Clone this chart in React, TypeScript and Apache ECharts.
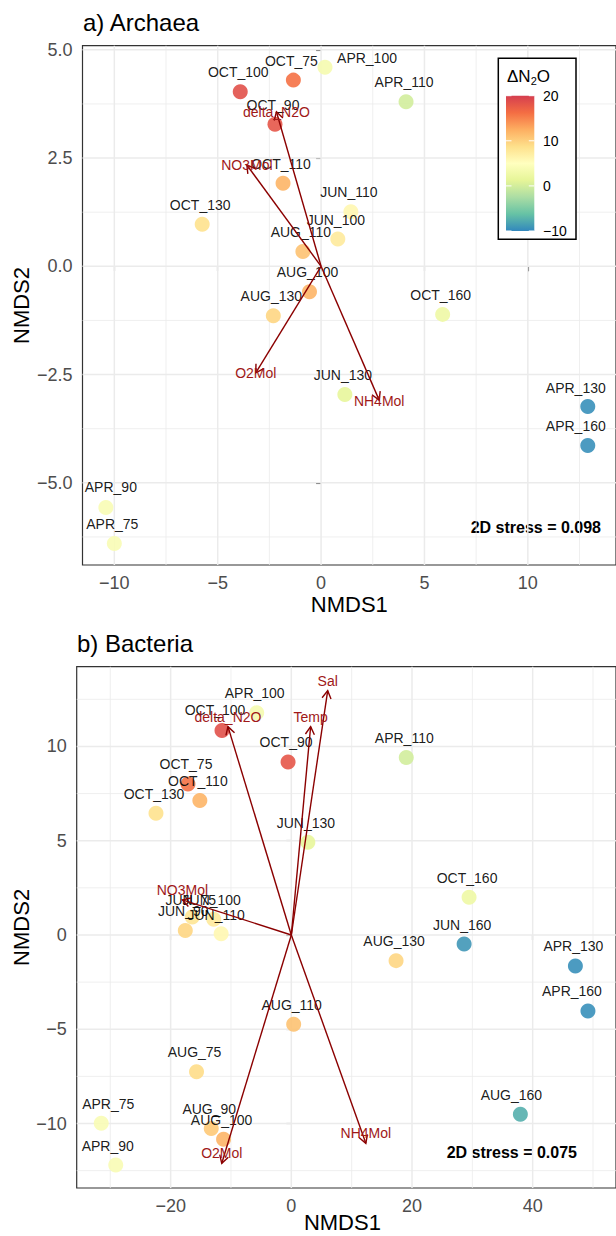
import React, { useEffect, useRef } from "react";
import * as echarts from "echarts";

const FONT = '"Liberation Sans", Arial, Helvetica, sans-serif';

// ΔN2O measured for each sample (month_depth)
const sampleIds = [
  "APR_75", "APR_90", "APR_100", "APR_110", "APR_130", "APR_160",
  "JUN_75", "JUN_90", "JUN_100", "JUN_110", "JUN_130", "JUN_160",
  "AUG_75", "AUG_90", "AUG_100", "AUG_110", "AUG_130", "AUG_160",
  "OCT_75", "OCT_90", "OCT_100", "OCT_110", "OCT_130", "OCT_160",
];
const sampleDeltaN2O = [
  4, 4, 3.5, 0, -9.5, -9.5,
  8, 9.5, 7.5, 6, 1.5, -9,
  9, 10.5, 12, 11, 9.5, -7.5,
  16, 18, 18.5, 12, 8.5, 2.5,
];

// a) Archaea ordination scores
const archaeaSamples = [
  "OCT_100", "OCT_75", "APR_100", "APR_110", "OCT_90", "OCT_110", "OCT_130", "JUN_110", "JUN_100",
  "AUG_110", "AUG_100", "AUG_130", "OCT_160", "JUN_130", "APR_130", "APR_160", "APR_90", "APR_75",
];
const archaeaNMDS1 = [-3.91, -1.34, 0.19, 4.11, -2.23, -1.84, -5.75, 1.44, 0.81, -0.88, -0.56, -2.31, 5.88, 1.15, 12.9, 12.9, -10.41, -10.0];
const archaeaNMDS2 = [4.03, 4.3, 4.6, 3.8, 3.28, 1.92, 0.97, 1.26, 0.63, 0.34, -0.59, -1.14, -1.11, -2.96, -3.24, -4.14, -5.57, -6.4];
const archaeaVectorNames = ["delta_N2O", "NO3Mol", "O2Mol", "NH4Mol"];
const archaeaVectorNMDS1 = [-2.16, -3.59, -3.16, 2.81];
const archaeaVectorNMDS2 = [3.57, 2.34, -2.46, -3.09];
const archaeaStress = "2D stress = 0.098";

// b) Bacteria ordination scores
const bacteriaSamples = [
  "APR_100", "OCT_100", "OCT_90", "OCT_75", "OCT_110", "OCT_130", "JUN_130", "APR_110",
  "JUN_75", "JUN_100", "JUN_90", "JUN_110", "OCT_160", "JUN_160", "AUG_130", "APR_130", "APR_160",
  "AUG_110", "AUG_75", "APR_75", "APR_90", "AUG_90", "AUG_100", "AUG_160",
];
const bacteriaNMDS1 = [-5.74, -11.49, -0.54, -17.13, -15.16, -22.43, 2.74, 19.05, -16.42, -12.86, -17.57, -11.63, 29.46, 28.64, 17.36, 47.08, 49.16, 0.39, -15.71, -31.5, -29.1, -13.27, -11.23, 37.96];
const bacteriaNMDS2 = [11.79, 10.84, 9.18, 8.01, 7.13, 6.46, 4.92, 9.41, 0.95, 0.83, 0.24, 0.07, 2.0, -0.48, -1.36, -1.64, -4.03, -4.74, -7.25, -9.99, -12.2, -10.26, -10.84, -9.51];
const bacteriaVectorNames = ["Sal", "Temp", "delta_N2O", "NO3Mol", "O2Mol", "NH4Mol"];
const bacteriaVectorNMDS1 = [6.03, 3.2, -10.5, -18.06, -11.53, 12.35];
const bacteriaVectorNMDS2 = [12.96, 11.05, 11.05, 1.86, -12.11, -11.05];
const bacteriaStress = "2D stress = 0.075";

// axis ticks
const archaeaXTicks = [-10, -5, 0, 5, 10];
const archaeaYTicks = [-5, -2.5, 0, 2.5, 5];
const bacteriaXTicks = [-20, 0, 20, 40];
const bacteriaYTicks = [-10, -5, 0, 5, 10];
const legendTicks = [20, 10, 0, -10];
const legendMin = -10;
const legendMax = 20;

// RColorBrewer "Spectral", low to high
const spectral = ["#3288BD", "#66C2A5", "#ABDDA4", "#E6F598", "#FFFFBF", "#FEE08B", "#FDAE61", "#F46D43", "#D53E4F"];

// label nudges (px) for crowded sample labels
const defaultNudge = [-2, -19.5];
const archaeaNudge: Record<string, number[]> = {
  APR_100: [42, -9],
  APR_130: [-12, -19],
  APR_160: [-12, -20],
  APR_90: [5, -20],
};
const bacteriaNudge: Record<string, number[]> = {
  OCT_100: [-7, -21],
  JUN_75: [-1.5, -17],
  JUN_110: [-5, -19],
  APR_160: [-16, -20],
  APR_75: [7, -19],
  APR_90: [-8, -19],
  AUG_160: [-9, -19],
};

const minus = (s: string) => s.replace("-", "\u2212");
const deltaOf = (id: string) => sampleDeltaN2O[sampleIds.indexOf(id)];

type Panel = {
  grid: { left: number; top: number; width: number; height: number };
  x: [number, number];
  y: [number, number];
  xTicks: number[];
  yTicks: number[];
  yFmt: (v: number) => string;
};

const panelA: Panel = {
  grid: { left: 82.5, top: 45.7, width: 538.5, height: 519.3 },
  x: [-11.54, 14.265],
  y: [-6.898, 5.095],
  xTicks: archaeaXTicks,
  yTicks: archaeaYTicks,
  yFmt: (v) => minus(v.toFixed(1)),
};
const panelB: Panel = {
  grid: { left: 76.7, top: 666.7, width: 544.3, height: 521.3 },
  x: [-35.57, 53.81],
  y: [-13.42, 14.23],
  xTicks: bacteriaXTicks,
  yTicks: bacteriaYTicks,
  yFmt: (v) => minus(String(v)),
};

function gridLines(ticks: number[], lo: number, hi: number, vertical: boolean) {
  const step = ticks[1] - ticks[0];
  const out: { v: number; vertical: boolean; major: boolean }[] = [];
  const k0 = Math.ceil(lo / (step / 2));
  const k1 = Math.floor(hi / (step / 2));
  for (let k = k0; k <= k1; k++) {
    out.push({ v: (k * step) / 2, vertical, major: k % 2 === 0 });
  }
  return out;
}

function gridSeries(p: Panel, idx: number) {
  const lines = [
    ...gridLines(p.xTicks, p.x[0], p.x[1], true),
    ...gridLines(p.yTicks, p.y[0], p.y[1], false),
  ];
  return {
    type: "custom",
    xAxisIndex: idx,
    yAxisIndex: idx,
    silent: true,
    z: 1,
    data: lines.map((l) => (l.vertical ? [l.v, 0] : [0, l.v])),
    renderItem: (params: any, api: any) => {
      const l = lines[params.dataIndex];
      const a = l.vertical ? api.coord([l.v, p.y[0]]) : api.coord([p.x[0], l.v]);
      const b = l.vertical ? api.coord([l.v, p.y[1]]) : api.coord([p.x[1], l.v]);
      return {
        type: "line",
        shape: { x1: a[0], y1: a[1], x2: b[0], y2: b[1] },
        style: { stroke: "#EBEBEB", lineWidth: l.major ? 1.5 : 0.8 },
      };
    },
  };
}

function scatterSeries(idx: number, names: string[], xs: number[], ys: number[], nudge: Record<string, number[]>) {
  return {
    type: "scatter",
    xAxisIndex: idx,
    yAxisIndex: idx,
    z: 2,
    symbol: "circle",
    symbolSize: 15,
    silent: true,
    itemStyle: { opacity: 0.9 },
    label: {
      show: true,
      position: "inside",
      formatter: "{b}",
      color: "#000",
      fontFamily: FONT,
      fontSize: 14,
      offset: defaultNudge,
    },
    data: names.map((n, i) => ({
      name: n,
      value: [xs[i], ys[i], deltaOf(n)],
      label: nudge[n] ? { offset: nudge[n] } : undefined,
    })),
  };
}

function vectorSeries(idx: number, names: string[], xs: number[], ys: number[], labelDy: number) {
  return {
    type: "custom",
    xAxisIndex: idx,
    yAxisIndex: idx,
    silent: true,
    z: 3,
    data: names.map((_, i) => [xs[i], ys[i]]),
    renderItem: (params: any, api: any) => {
      const o = api.coord([0, 0]);
      const t = api.coord([api.value(0), api.value(1)]);
      const ang = Math.atan2(t[1] - o[1], t[0] - o[0]);
      const L = 9;
      const a = Math.PI / 6;
      const h1 = [t[0] - L * Math.cos(ang - a), t[1] - L * Math.sin(ang - a)];
      const h2 = [t[0] - L * Math.cos(ang + a), t[1] - L * Math.sin(ang + a)];
      const stroke = "#8B0000";
      return {
        type: "group",
        children: [
          { type: "line", shape: { x1: o[0], y1: o[1], x2: t[0], y2: t[1] }, style: { stroke, lineWidth: 1.4 } },
          { type: "polyline", shape: { points: [h1, t, h2] }, style: { stroke, fill: "none", lineWidth: 1.4 } },
          {
            type: "text",
            x: t[0],
            y: t[1] + labelDy,
            style: {
              text: names[params.dataIndex],
              fill: "#A01818",
              fontFamily: FONT,
              fontSize: 14,
              align: "center",
              verticalAlign: "middle",
              textAlign: "center",
              textVerticalAlign: "middle",
            },
          },
        ],
      };
    },
  };
}

function axes(p: Panel, idx: number) {
  const tickStyle = { show: true, length: 5, lineStyle: { color: "#333333", width: 1.1 } };
  const labelStyle = { color: "#4D4D4D", fontSize: 18, fontFamily: FONT };
  return {
    x: {
      type: "value",
      gridIndex: idx,
      min: p.x[0],
      max: p.x[1],
      axisLine: { show: false },
      splitLine: { show: false },
      axisTick: { ...tickStyle, customValues: p.xTicks },
      axisLabel: { ...labelStyle, customValues: p.xTicks, margin: 9, formatter: (v: number) => minus(String(v)) },
    },
    y: {
      type: "value",
      gridIndex: idx,
      min: p.y[0],
      max: p.y[1],
      axisLine: { show: false },
      splitLine: { show: false },
      axisTick: { ...tickStyle, customValues: p.yTicks },
      axisLabel: { ...labelStyle, customValues: p.yTicks, margin: 10, formatter: p.yFmt },
    },
  };
}

function text(t: string, x: number, y: number, size: number, extra: any = {}, elExtra: any = {}) {
  return {
    type: "text",
    x,
    y,
    ...elExtra,
    style: {
      text: t,
      fill: "#000",
      fontFamily: FONT,
      fontSize: size,
      align: "left",
      verticalAlign: "middle",
      textAlign: "left",
      textVerticalAlign: "middle",
      ...extra,
    },
  };
}

function legendGraphics() {
  const bar = { x: 506, y: 95.7, w: 28.3, h: 135.3 };
  const yOf = (v: number) => bar.y + ((legendMax - v) / (legendMax - legendMin)) * bar.h;
  const stops = spectral
    .slice()
    .reverse()
    .map((c, i) => ({ offset: i / (spectral.length - 1), color: c }));
  const els: any[] = [
    { type: "rect", shape: { x: 498.3, y: 58.3, width: 77.7, height: 181 }, style: { fill: "#fff", stroke: "#000", lineWidth: 1.5 }, z: 10 },
    {
      type: "rect",
      shape: { x: bar.x, y: bar.y, width: bar.w, height: bar.h },
      style: { fill: new echarts.graphic.LinearGradient(0, 0, 0, 1, stops) },
      z: 11,
    },
    {
      type: "text",
      x: 507,
      y: 76,
      z: 11,
      style: {
        text: "\u0394N{s|2}O",
        fill: "#000",
        fontFamily: FONT,
        fontSize: 17,
        lineHeight: 20,
        align: "left",
        verticalAlign: "middle",
        textAlign: "left",
        textVerticalAlign: "middle",
        rich: { s: { fontSize: 11, lineHeight: 9, verticalAlign: "bottom", fontFamily: FONT } },
      },
    },
  ];
  legendTicks.forEach((t) => {
    const y = yOf(t);
    els.push({ type: "line", z: 12, shape: { x1: bar.x, y1: y, x2: bar.x + 5.5, y2: y }, style: { stroke: "#fff", lineWidth: 1 } });
    els.push({ type: "line", z: 12, shape: { x1: bar.x + bar.w - 5.5, y1: y, x2: bar.x + bar.w, y2: y }, style: { stroke: "#fff", lineWidth: 1 } });
    els.push({ ...text(minus(String(t)), 543, y, 14), z: 11 });
  });
  return els;
}

export default function App() {
  const ref = useRef<HTMLDivElement>(null);

  useEffect(() => {
    if (!ref.current) return;
    const chart = echarts.init(ref.current, null, { renderer: "svg" });
    const axA = axes(panelA, 0);
    const axB = axes(panelB, 1);
    const gridStyle = { show: true, backgroundColor: "#fff", borderColor: "#333333", borderWidth: 1.2 };

    chart.setOption({
      animation: false,
      backgroundColor: "#fff",
      textStyle: { fontFamily: FONT },
      grid: [
        { ...panelA.grid, ...gridStyle },
        { ...panelB.grid, ...gridStyle },
      ],
      xAxis: [axA.x, axB.x],
      yAxis: [axA.y, axB.y],
      visualMap: [
        {
          type: "continuous",
          show: false,
          min: legendMin,
          max: legendMax,
          dimension: 2,
          seriesIndex: [2, 3],
          inRange: { color: spectral },
        },
      ],
      series: [
        gridSeries(panelA, 0),
        gridSeries(panelB, 1),
        scatterSeries(0, archaeaSamples, archaeaNMDS1, archaeaNMDS2, archaeaNudge),
        scatterSeries(1, bacteriaSamples, bacteriaNMDS1, bacteriaNMDS2, bacteriaNudge),
        vectorSeries(0, archaeaVectorNames, archaeaVectorNMDS1, archaeaVectorNMDS2, 0.5),
        vectorSeries(1, bacteriaVectorNames, bacteriaVectorNMDS1, bacteriaVectorNMDS2, -10),
      ],
      graphic: [
        text("a) Archaea", 83, 22.7, 24),
        text("b) Bacteria", 77, 643.5, 24),
        text("NMDS1", 349.3, 604, 22, { align: "center", textAlign: "center" }),
        text("NMDS1", 342.4, 1222.5, 22, { align: "center", textAlign: "center" }),
        text("NMDS2", 21, 305.5, 22, { align: "center", textAlign: "center" }, { rotation: Math.PI / 2 }),
        text("NMDS2", 21, 927.4, 22, { align: "center", textAlign: "center" }, { rotation: Math.PI / 2 }),
        text(archaeaStress, 601, 527.7, 16, { align: "right", textAlign: "right", fontWeight: "bold" }),
        text(bacteriaStress, 577, 1152.7, 16, { align: "right", textAlign: "right", fontWeight: "bold" }),
        ...legendGraphics(),
      ],
    });
    return () => chart.dispose();
  }, []);

  return <div ref={ref} style={{ position: "absolute", left: 0, top: 0, width: 616, height: 1236 }} />;
}
